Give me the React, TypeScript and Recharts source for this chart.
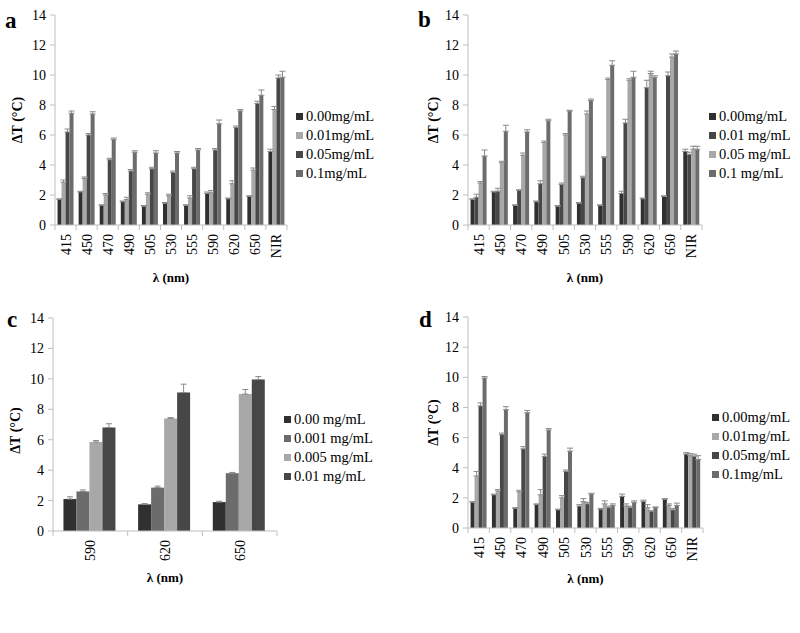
import { Bar, BarChart, ErrorBar, XAxis, YAxis } from 'recharts'

// wavelengths on the x axis
const wavelengths = ['415', '450', '470', '490', '505', '530', '555', '590', '620', '650', 'NIR']
const redWavelengths = ['590', '620', '650']
const yTicks = [0, 2, 4, 6, 8, 10, 12, 14]

const black = '#303030'
const light = '#a8a8a8'
const dark = '#474747'
const mid = '#6c6c6c'

// panel a
const aNames = ['0.00mg/mL', '0.01mg/mL', '0.05mg/mL', '0.1mg/mL']
const a1 = [1.7, 2.2, 1.3, 1.55, 1.25, 1.45, 1.3, 2.1, 1.75, 1.9, 4.9]
const a2 = [2.85, 3.1, 2.0, 1.7, 2.05, 1.95, 1.8, 2.15, 2.75, 3.65, 7.7]
const a3 = [6.2, 6.0, 4.35, 3.6, 3.75, 3.5, 3.75, 5.0, 6.5, 8.1, 9.8]
const a4 = [7.45, 7.4, 5.7, 4.85, 4.8, 4.8, 5.0, 6.75, 7.6, 8.65, 9.85]
const a1Err = [0.05, 0.05, 0.05, 0.05, 0.05, 0.05, 0.05, 0.1, 0.05, 0.05, 0.15]
const a2Err = [0.15, 0.1, 0.1, 0.15, 0.1, 0.1, 0.15, 0.15, 0.2, 0.15, 0.2]
const a3Err = [0.2, 0.1, 0.1, 0.1, 0.1, 0.1, 0.1, 0.1, 0.1, 0.15, 0.2]
const a4Err = [0.15, 0.15, 0.1, 0.1, 0.15, 0.1, 0.1, 0.25, 0.1, 0.35, 0.4]

// panel b
const bNames = ['0.00mg/mL', '0.01 mg/mL', '0.05 mg/mL', '0.1 mg/mL']
const b1 = [1.7, 2.2, 1.3, 1.55, 1.25, 1.45, 1.3, 2.1, 1.75, 1.9, 4.9]
const b2 = [1.85, 2.25, 2.3, 2.75, 2.7, 3.15, 4.5, 6.8, 9.15, 9.95, 4.7]
const b3 = [2.8, 4.15, 4.65, 5.5, 6.0, 7.4, 9.7, 9.65, 10.1, 11.2, 5.05]
const b4 = [4.6, 6.25, 6.2, 6.95, 7.6, 8.3, 10.65, 9.85, 9.85, 11.4, 5.05]
const b1Err = [0.05, 0.05, 0.05, 0.05, 0.05, 0.05, 0.05, 0.15, 0.05, 0.05, 0.15]
const b2Err = [0.2, 0.2, 0.05, 0.2, 0.1, 0.1, 0.05, 0.25, 0.5, 0.25, 0.15]
const b3Err = [0.1, 0.1, 0.15, 0.1, 0.1, 0.2, 0.1, 0.1, 0.15, 0.2, 0.2]
const b4Err = [0.4, 0.4, 0.15, 0.1, 0.05, 0.1, 0.3, 0.4, 0.1, 0.2, 0.2]

// panel c
const cNames = ['0.00 mg/mL', '0.001 mg/mL', '0.005 mg/mL', '0.01 mg/mL']
const c1 = [2.1, 1.75, 1.9]
const c2 = [2.6, 2.85, 3.8]
const c3 = [5.85, 7.4, 9.0]
const c4 = [6.8, 9.1, 9.95]
const c1Err = [0.15, 0.05, 0.05]
const c2Err = [0.1, 0.1, 0.05]
const c3Err = [0.1, 0.05, 0.3]
const c4Err = [0.25, 0.55, 0.2]

// panel d
const dNames = ['0.00mg/mL', '0.01mg/mL', '0.05mg/mL', '0.1mg/mL']
const d1 = [1.7, 2.2, 1.3, 1.55, 1.2, 1.45, 1.25, 2.1, 1.75, 1.9, 4.9]
const d2 = [3.45, 2.45, 2.4, 2.2, 2.0, 1.75, 1.6, 1.45, 1.35, 1.5, 4.8]
const d3 = [8.1, 6.2, 5.25, 4.75, 3.75, 1.6, 1.35, 1.35, 1.1, 1.2, 4.75]
const d4 = [9.95, 7.85, 7.65, 6.5, 5.1, 2.25, 1.5, 1.7, 1.35, 1.5, 4.55]
const d1Err = [0.05, 0.05, 0.05, 0.05, 0.05, 0.1, 0.05, 0.15, 0.1, 0.05, 0.1]
const d2Err = [0.3, 0.1, 0.1, 0.35, 0.15, 0.2, 0.2, 0.15, 0.2, 0.1, 0.15]
const d3Err = [0.2, 0.1, 0.15, 0.15, 0.1, 0.1, 0.1, 0.1, 0.05, 0.1, 0.15]
const d4Err = [0.1, 0.2, 0.15, 0.1, 0.2, 0.05, 0.1, 0.1, 0.05, 0.15, 0.25]

const serif = 'Liberation Serif, DejaVu Serif, serif'
const axisGrey = '#bfbfbf'

type Series = { name: string; values: number[]; errors: number[]; color: string }

type PanelProps = {
    letter: string
    letterPos: { x: number; y: number }
    left: number
    top: number
    categories: string[]
    series: Series[]
    margin: { top: number; right: number; left: number; bottom: number }
    yWidth: number
    xHeight: number
    gap: string
    yLabelOffset: number
    yLabelDy: number
    legend: { x: number; y: number }
}

const Panel = (p: PanelProps) => {
    const data = p.categories.map((c, i) => {
        const row: Record<string, unknown> = { name: c }
        p.series.forEach((s, j) => {
            row['s' + j] = s.values[i]
            row['e' + j] = [0, s.errors[i]]
        })
        return row
    })
    const width = 400
    const height = 300
    const plotW = width - p.margin.left - p.margin.right - p.yWidth
    const band = plotW / p.categories.length

    const XTick = ({ x, y, payload, index }: any) => (
        <g>
            <line x1={x - band / 2} x2={x - band / 2} y1={y - 8} y2={y - 3} stroke={axisGrey} />
            {index === p.categories.length - 1 && (
                <line x1={x + band / 2} x2={x + band / 2} y1={y - 8} y2={y - 3} stroke={axisGrey} />
            )}
            <text
                transform={`translate(${x + 5},${y + 1}) rotate(-90)`}
                textAnchor="end"
                fontSize={14}
                style={{ fontFamily: serif }}
                fill="#000"
            >
                {payload.value}
            </text>
        </g>
    )

    return (
        <div style={{ position: 'absolute', left: p.left, top: p.top, width, height, fontFamily: serif }}>
            <BarChart width={width} height={height} data={data} margin={p.margin} barCategoryGap={p.gap} barGap={0}>
                <XAxis
                    dataKey="name"
                    height={p.xHeight}
                    tickLine={false}
                    axisLine={{ stroke: axisGrey }}
                    tick={<XTick />}
                    interval={0}
                    label={{
                        value: 'λ (nm)',
                        position: 'insideBottom',
                        offset: 3,
                        style: { fontFamily: serif, fontWeight: 'bold', fontSize: 13, fill: '#000' }
                    }}
                />
                <YAxis
                    domain={[0, 14]}
                    ticks={yTicks}
                    width={p.yWidth}
                    tickSize={5}
                    tickMargin={4}
                    axisLine={{ stroke: axisGrey }}
                    tickLine={{ stroke: axisGrey }}
                    tick={{ fontSize: 14, fill: '#000', style: { fontFamily: serif } }}
                    label={{
                        value: 'ΔT (°C)',
                        angle: -90,
                        position: 'insideLeft',
                        offset: p.yLabelOffset,
                        dy: p.yLabelDy,
                        style: { textAnchor: 'middle', fontFamily: serif, fontWeight: 'bold', fontSize: 14, fill: '#000' }
                    }}
                />
                {p.series.map((s, j) => (
                    <Bar key={s.name} dataKey={'s' + j} fill={s.color} isAnimationActive={false}>
                        <ErrorBar dataKey={'e' + j} width={3} stroke="#8a8a8a" strokeWidth={1} />
                    </Bar>
                ))}
            </BarChart>
            <div
                style={{
                    position: 'absolute',
                    left: p.letterPos.x,
                    top: p.letterPos.y,
                    fontWeight: 'bold',
                    fontSize: 23,
                    lineHeight: 1
                }}
            >
                {p.letter}
            </div>
            <div style={{ position: 'absolute', left: p.legend.x, top: p.legend.y, fontSize: 14.5 }}>
                {p.series.map((s) => (
                    <div key={s.name} style={{ display: 'flex', alignItems: 'center', height: 19, whiteSpace: 'nowrap' }}>
                        <span style={{ display: 'inline-block', width: 7, height: 7, background: s.color, marginRight: 3 }} />
                        {s.name}
                    </div>
                ))}
            </div>
        </div>
    )
}

const mk = (names: string[], vals: number[][], errs: number[][], colors: string[]): Series[] =>
    names.map((n, i) => ({ name: n, values: vals[i], errors: errs[i], color: colors[i] }))

export default function App() {
    return (
        <div style={{ position: 'absolute', left: 0, top: 0, width: 800, height: 633, background: '#fff' }}>
            <Panel
                letter="a"
                letterPos={{ x: 5, y: 9 }}
                left={0}
                top={0}
                categories={wavelengths}
                series={mk(aNames, [a1, a2, a3, a4], [a1Err, a2Err, a3Err, a4Err], [black, light, dark, mid])}
                margin={{ top: 15, right: 113, left: 0, bottom: 15 }}
                yWidth={55}
                xHeight={60}
                gap="12%"
                yLabelOffset={17}
                yLabelDy={0}
                legend={{ x: 296, y: 107 }}
            />
            <Panel
                letter="b"
                letterPos={{ x: 18, y: 8 }}
                left={400}
                top={0}
                categories={wavelengths}
                series={mk(bNames, [b1, b2, b3, b4], [b1Err, b2Err, b3Err, b4Err], [black, dark, light, mid])}
                margin={{ top: 15, right: 98, left: 0, bottom: 15 }}
                yWidth={68}
                xHeight={60}
                gap="12%"
                yLabelOffset={33}
                yLabelDy={0}
                legend={{ x: 309, y: 107 }}
            />
            <Panel
                letter="c"
                letterPos={{ x: 7, y: 8 }}
                left={0}
                top={300}
                categories={redWavelengths}
                series={mk(cNames, [c1, c2, c3, c4], [c1Err, c2Err, c3Err, c4Err], [black, mid, light, dark])}
                margin={{ top: 18, right: 123, left: 0, bottom: 15 }}
                yWidth={53}
                xHeight={54}
                gap="14%"
                yLabelOffset={15}
                yLabelDy={6}
                legend={{ x: 284, y: 110 }}
            />
            <Panel
                letter="d"
                letterPos={{ x: 19, y: 8 }}
                left={400}
                top={300}
                categories={wavelengths}
                series={mk(dNames, [d1, d2, d3, d4], [d1Err, d2Err, d3Err, d4Err], [black, light, dark, mid])}
                margin={{ top: 17, right: 97, left: 0, bottom: 14 }}
                yWidth={68}
                xHeight={58}
                gap="12%"
                yLabelOffset={33}
                yLabelDy={0}
                legend={{ x: 312, y: 108 }}
            />
        </div>
    )
}
